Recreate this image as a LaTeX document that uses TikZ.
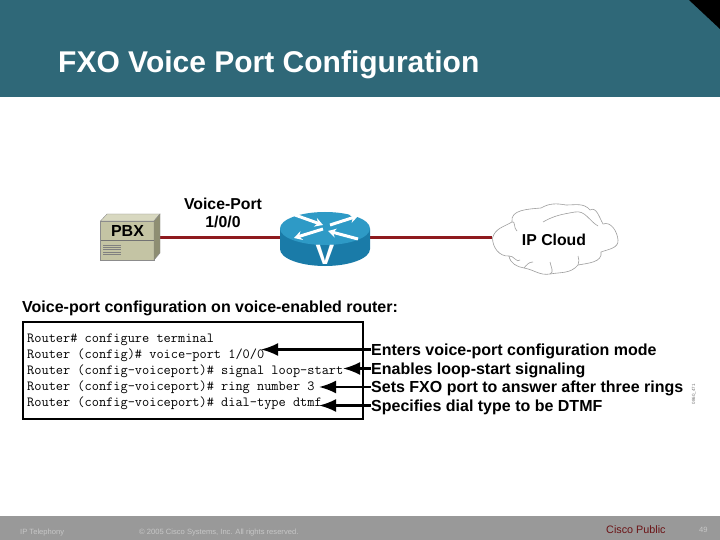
\documentclass[tikz,border=0pt]{standalone}
\usepackage{fontspec}
\setmainfont{Liberation Sans}
\usetikzlibrary{arrows.meta,shapes.geometric}
\definecolor{hdr}{HTML}{2F6878}
\definecolor{foot}{HTML}{999999}
\definecolor{linkred}{HTML}{8E1A1E}
\definecolor{rtop}{HTML}{2E9AC6}
\definecolor{rside}{HTML}{1A7BA8}
\definecolor{pbxf}{HTML}{C4C4A4}
\definecolor{pbxt}{HTML}{D8D8C0}
\definecolor{pbxs}{HTML}{8E8E72}
\tikzset{
  lab/.style={font=\bfseries\fontsize{16}{17}\selectfont,anchor=west,inner sep=0pt,text height=13pt,text depth=2pt},
  cmd/.style={font=\ttfamily\addfontfeature{FakeBold=0.35}\fontsize{13.95}{14}\selectfont,anchor=west,inner sep=0pt},
  netlab/.style={font=\bfseries\fontsize{15.8}{18}\selectfont,inner sep=0pt,align=center},
  callout/.style={line width=2.2pt,-{Latex[length=17pt,width=13pt]}},
  link/.style={linkred,line width=3pt},
  ftext/.style={font=\fontsize{7.6}{8}\selectfont,text=black!22,anchor=west,inner sep=0pt},
  cloudl/.style={draw=black!38,line width=.6pt},
  rarrow/.style={white,line width=3pt,-{Stealth[length=8pt,width=9pt]}},
  box/.style={inner sep=0pt,minimum width=#1}
}
\begin{document}
\begin{tikzpicture}[x=1pt,y=-1pt]
\useasboundingbox (0,0) rectangle (720,540);
\fill[white] (0,0) rectangle (720,540);
% header and footer
\fill[hdr] (0,0) rectangle (720,97);
\fill[black] (689,0) -- (720,0) -- (720,29) -- cycle;
\fill[foot] (0,516) rectangle (720,540);
\node[font=\bfseries\fontsize{30}{32}\selectfont,text=white,anchor=west,inner sep=0pt] (title) at (58,64.5) {FXO Voice Port Configuration};
\node[ftext] (f1) at (20,533) {IP Telephony};
\node[ftext] (f2) at (139,533) {© 2005 Cisco Systems, Inc. All rights reserved.};
\node[font=\fontsize{10.8}{12}\selectfont,text=linkred!75!black,anchor=west,inner sep=0pt] (f3) at (606,529.5) {Cisco Public};
\node[ftext] (f4) at (699,530) {49};
% anchors for the devices
\node[box=60pt,minimum height=46pt] (pbx) at (130,237) {};
\node[box=90pt,minimum height=54pt] (router) at (325,237) {};
\node[box=126pt,minimum height=70pt] (cloud) at (555,237) {};
% links
\draw[link] (pbx.east) -- (router.west);
\draw[link] (router.east) -- (cloud.west);
% PBX
\fill[pbxf,draw=black!45,line width=.4pt] (100.5,221) rectangle (154,260);
\fill[pbxt,draw=black!45,line width=.4pt] (100.5,221) -- (107,214) -- (160,214) -- (154,221) -- cycle;
\fill[pbxs,draw=black!45,line width=.4pt] (154,221) -- (160,214) -- (160,253) -- (154,260) -- cycle;
\draw[black!55,line width=.5pt] (100.5,240) -- (154,240);
\node[font=\bfseries\fontsize{16}{16}\selectfont,inner sep=0pt] (pbxlab) at (127.5,230.5) {PBX};
\foreach \yy in {245,247.3,249.6,251.9,254.2}
  \draw[black!50,line width=.5pt] (103,\yy) -- (121,\yy);
% router
\fill[rside] (280,229) -- (280,249) arc[start angle=180,delta angle=-180,x radius=45,y radius=17] -- (370,229) -- cycle;
\fill[rtop] (325,228.5) ellipse[x radius=45,y radius=16.5];
\draw[rarrow] (295,215) -- (323,225);
\draw[rarrow] (330,225) -- (358,216);
\draw[rarrow] (323,229) -- (294,238);
\draw[rarrow] (358,239) -- (328,231);
\node[font=\bfseries\fontsize{28}{28}\selectfont,text=white,inner sep=0pt] (vlab) at (325,255) {V};
% cloud
\draw[cloudl,fill=white]
  (492.5,238) to[out=75,in=210] (512,222)
  to[out=100,in=185] (541,208)
  to[out=30,in=170] (566,205)
  to[out=0,in=130] (590,210)
  to[out=30,in=120] (603,224)
  to[out=20,in=95] (618,240)
  to[out=275,in=20] (601,252)
  to[out=280,in=10] (578,265)
  to[out=230,in=10] (550,274)
  to[out=190,in=350] (524,268)
  to[out=170,in=280] (509,256)
  to[out=185,in=270] cycle;
\draw[cloudl] (512,222) to[out=30,in=150] (517,231);
\draw[cloudl] (543,222) to[out=30,in=190] (575,212) to[out=10,in=150] (598,226);
\draw[cloudl] (578,265) to[out=70,in=290] (578,256);
\draw[cloudl] (550,274) to[out=20,in=280] (550,262);
\draw[cloudl] (524,268) to[out=50,in=180] (533,262);
\draw[cloudl] (509,256) to[out=10,in=230] (520,260);
\node[netlab] (cloudlab) at (554,239.5) {IP Cloud};
\node[netlab] (vplab) at (223,212.5) {Voice-Port\\1/0/0};
% config
\node[font=\bfseries\fontsize{16}{17}\selectfont,anchor=west,inner sep=0pt] (cfgtitle) at (22,308) {Voice-port configuration on voice-enabled router:};
\draw[line width=2pt] (23,321.5) rectangle (362.5,419);
\node[cmd] (c1) at (27,340) {Router\# configure terminal};
\node[cmd] (c2) at (27,355.5) {Router (config)\# voice-port 1/0/0};
\node[cmd] (c3) at (27,371) {Router (config-voiceport)\# signal loop-start};
\node[cmd] (c4) at (27,387) {Router (config-voiceport)\# ring number 3};
\node[cmd] (c5) at (27,403) {Router (config-voiceport)\# dial-type dtmf};
% callouts
\node[lab] (l1) at (371,349.5) {Enters voice-port configuration mode};
\node[lab] (l2) at (371,368.5) {Enables loop-start signaling};
\node[lab] (l3) at (371,387) {Sets FXO port to answer after three rings};
\node[lab] (l4) at (371,405.5) {Specifies dial type to be DTMF};
\coordinate (t1) at (261,349.5);
\coordinate (t2) at (343,368.5);
\coordinate (t3) at (319,387);
\coordinate (t4) at (319,405.5);
\draw[callout] (l1.west) -- (t1);
\draw[callout] (l2.west) -- (t2);
\draw[callout] (l3.west) -- (t3);
\draw[callout] (l4.west) -- (t4);
\node[font=\fontsize{4.5}{5}\selectfont,text=black!55,rotate=90,inner sep=0pt] (code) at (694,394) {0860\_471};
\end{tikzpicture}
\end{document}
